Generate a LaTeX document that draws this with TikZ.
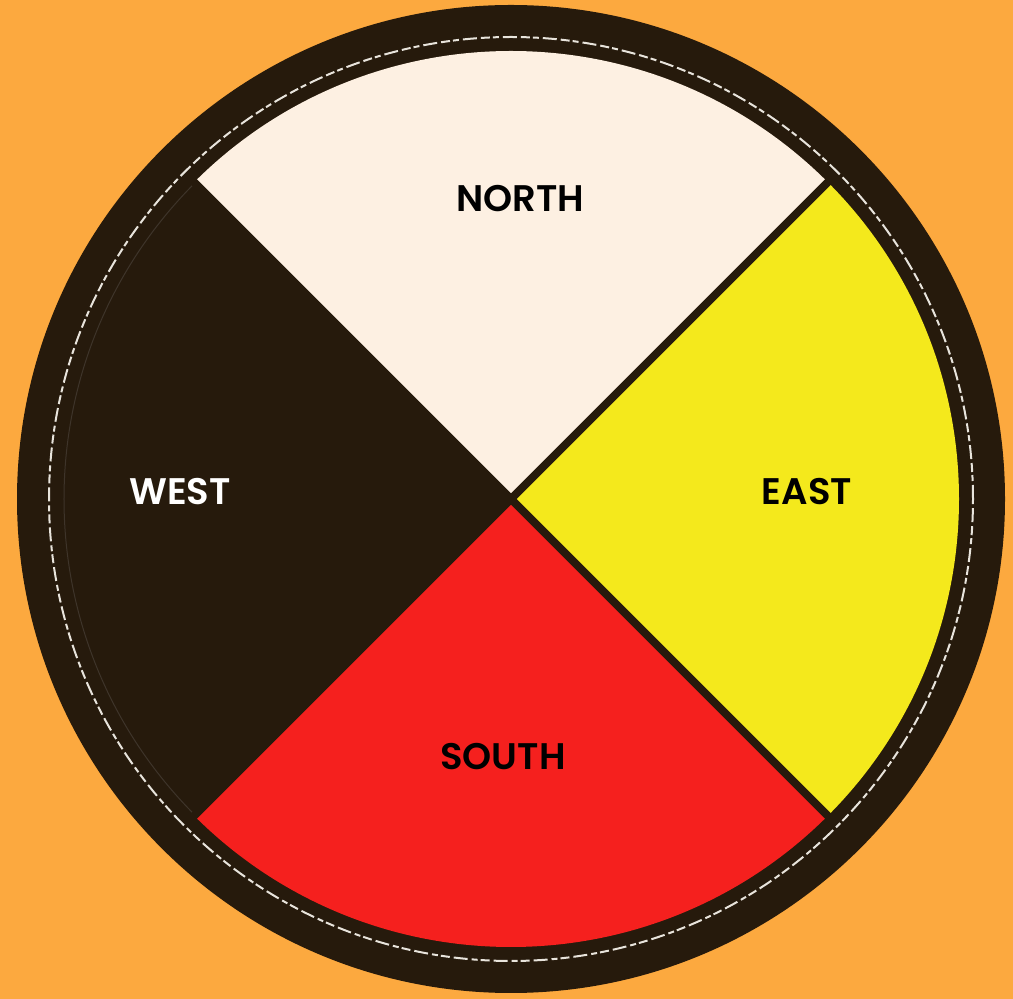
\documentclass[tikz,border=0pt]{standalone}
\usepackage{fontspec}
\setmainfont{Poppins}[BoldFont={Poppins SemiBold}]
\definecolor{bgorange}{RGB}{252,169,63}
\definecolor{ringdark}{RGB}{38,26,12}
\definecolor{northcream}{RGB}{253,240,226}
\definecolor{eastyellow}{RGB}{244,233,28}
\definecolor{southred}{RGB}{245,32,30}
\definecolor{faintline}{RGB}{62,52,42}
\definecolor{dashwhite}{RGB}{232,228,220}
\tikzset{
  sector/.style={draw=none},
  divider/.style={draw=ringdark, line width=8pt, line cap=butt},
  dirlabel/.style={font=\fontsize{37}{40}\selectfont\bfseries, inner sep=0pt},
}
\begin{document}
\begin{tikzpicture}[x=1pt,y=1pt]
\useasboundingbox (0,0) rectangle (1013,999);
\fill[bgorange] (0,0) rectangle (1013,999);
\coordinate (c) at (511,500);
% outer dark disc
\fill[ringdark] (c) circle[radius=494pt];
% sectors
\fill[northcream, sector] (c) -- ++(45:448pt) arc[start angle=45, end angle=135, radius=448pt] -- cycle;
\fill[eastyellow, sector] (c) -- ++(-45:448pt) arc[start angle=-45, end angle=45, radius=448pt] -- cycle;
\fill[southred, sector] (c) -- ++(-135:448pt) arc[start angle=-135, end angle=-45, radius=448pt] -- cycle;
\fill[ringdark, sector] (c) -- ++(135:448pt) arc[start angle=135, end angle=225, radius=448pt] -- cycle;
% faint edge of the west sector
\draw[faintline, line width=1pt] ([shift={(135:447pt)}]c) arc[start angle=135, end angle=225, radius=447pt];
% dividers
\coordinate (ne) at ([shift={(45:450pt)}]c);
\coordinate (nw) at ([shift={(135:450pt)}]c);
\coordinate (sw) at ([shift={(225:450pt)}]c);
\coordinate (se) at ([shift={(-45:450pt)}]c);
\draw[divider] (ne) -- (sw);
\draw[divider] (nw) -- (se);
% white dashed ring
\draw[dashwhite, line width=2pt, dash pattern=on 14pt off 4pt on 6pt off 3pt on 9pt off 4pt] (c) circle[radius=462pt];
% labels
\node[dirlabel, text=black] (north) at (520,800) {NORTH};
\node[dirlabel, text=white] (west) at (180,507) {WEST};
\node[dirlabel, text=black] (east) at (807,507) {EAST};
\node[dirlabel, text=black] (south) at (503,242) {SOUTH};
\end{tikzpicture}
\end{document}
